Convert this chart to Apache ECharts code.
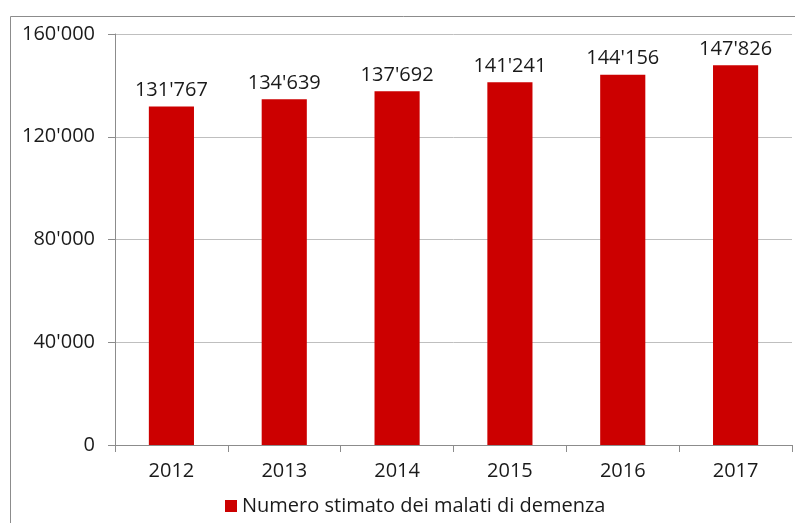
<!DOCTYPE html>
<html>
<head>
<meta charset="utf-8">
<script src="https://cdn.jsdelivr.net/npm/echarts@6/dist/echarts.min.js"></script>
<style>
html, body { margin: 0; padding: 0; background: #fff; }
#chart { width: 795px; height: 523px; }
</style>
</head>
<body>
<div id="chart"></div>
<script>
var years = ['2012', '2013', '2014', '2015', '2016', '2017'];
var malati = [131767, 134639, 137692, 141241, 144156, 147826];
var seriesName = 'Numero stimato dei malati di demenza';
var textColor = '#1a1a1a';
var font = '"Open Sans", "Noto Sans", sans-serif';

// separatore delle migliaia con apostrofo
function fmt(v) {
	return String(v).replace(/\B(?=(\d{3})+(?!\d))/g, "'");
}

var option = {
	animation: false,
	textStyle: { fontFamily: font },
	graphic: [{
		type: 'rect',
		shape: { x: 10.5, y: 16.5, width: 900, height: 700 },
		style: { fill: 'none', stroke: '#8c8c8c', lineWidth: 1 },
		silent: true
	}],
	grid: {
		left: 115,
		right: 3,
		top: 34,
		bottom: 78
	},
	legend: {
		bottom: 2,
		left: 220,
		itemWidth: 12,
		itemHeight: 12,
		itemGap: 6,
		icon: 'rect',
		textStyle: { fontSize: 20, color: textColor, fontFamily: font },
		data: [seriesName]
	},
	xAxis: {
		type: 'category',
		data: years,
		axisLine: { lineStyle: { color: '#8c8c8c' } },
		axisTick: { show: true, length: 7, lineStyle: { color: '#8c8c8c' } },
		axisLabel: { fontSize: 20, color: textColor, margin: 16, fontFamily: font }
	},
	yAxis: {
		type: 'value',
		min: 0,
		max: 160000,
		interval: 40000,
		axisLine: { show: true, lineStyle: { color: '#8c8c8c' } },
		axisTick: { show: true, length: 7, lineStyle: { color: '#8c8c8c' } },
		splitLine: { lineStyle: { color: '#bfbfbf' } },
		axisLabel: {
			fontSize: 20,
			color: textColor,
			margin: 20,
			fontFamily: font,
			formatter: fmt
		}
	},
	series: [{
		name: seriesName,
		type: 'bar',
		barWidth: '40%',
		data: malati,
		itemStyle: { color: '#cc0000' },
		label: {
			show: true,
			position: 'top',
			distance: 6,
			fontSize: 20,
			color: textColor,
			fontFamily: font,
			formatter: function(p) { return fmt(p.value); }
		}
	}]
};
var chart = echarts.init(document.getElementById('chart'));
chart.setOption(option);
</script>
</body>
</html>
